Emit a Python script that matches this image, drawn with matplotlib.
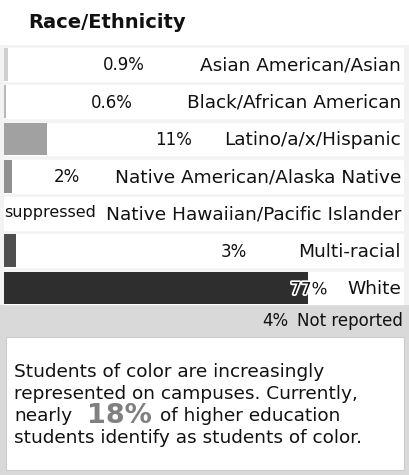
import numpy as np
import matplotlib
matplotlib.use('Agg')
import matplotlib.pyplot as plt
import matplotlib.patheffects as pe
from matplotlib.patches import Rectangle

plt.rcParams['font.family'] = ['DejaVu Sans']

# data
categories = ['Asian American/Asian', 'Black/African American', 'Latino/a/x/Hispanic',
              'Native American/Alaska Native', 'Native Hawaiian/Pacific Islander',
              'Multi-racial', 'White']
values = [0.9, 0.6, 11, 2, 0, 3, 77]
value_labels = ['0.9%', '0.6%', '11%', '2%', 'suppressed', '3%', '77%']
bar_colors = ['#cfcfcf', '#b8b8b8', '#a1a1a1', '#909090', '#ffffff', '#4e4e4e', '#2e2e2e']
not_reported_label = '4%'
not_reported_name = 'Not reported'

# where the percent labels sit (right edge, pixels)
label_right_px = [145, 133, 192, 80, 95, 247, 327]
not_reported_px = 288

W, H = 409, 475
fig = plt.figure(figsize=(W / 100, H / 100), dpi=100, facecolor='white')

def fx(px):
    return px / W

def fy(py):
    return 1 - py / H

# background bands
fig.patches.append(Rectangle((0, fy(305)), 1, fy(45) - fy(305), transform=fig.transFigure,
                             facecolor='#f3f3f3', edgecolor='none', zorder=-2))
fig.patches.append(Rectangle((0, 0), 1, fy(305), transform=fig.transFigure,
                             facecolor='#d9d9d9', edgecolor='none', zorder=-2))

pitch = 37.3
top = 64.3 - pitch / 2
ax = fig.add_axes([fx(4), fy(top + 8 * pitch), fx(400), 8 * pitch / H])
ax.set_zorder(1)
ax.set_facecolor('none')
ax.set_xlim(0, 101.3)
ax.set_ylim(7.5, -0.5)
ax.axis('off')

y = np.arange(len(categories))
for i in y:
    ax.axhspan(i - 0.437, i + 0.437, color='white', zorder=1)
ax.barh(y, values, height=0.874, color=bar_colors, zorder=2)

xt = ax.get_yaxis_transform()
for i, name in enumerate(categories):
    ax.text(0.9925, i + 0.03, name, transform=xt, ha='right', va='center',
            fontsize=13.3, color='#111111', zorder=4)
    if value_labels[i] == 'suppressed':
        ax.text(0, i - 0.02, value_labels[i], transform=xt, ha='left', va='center',
                fontsize=11.5, color='#111111', zorder=4)
    else:
        t = ax.text((label_right_px[i] - 4) / 400, i + 0.03, value_labels[i], transform=xt,
                    ha='right', va='center', fontsize=12, color='#111111', zorder=4)
        if values[i] > 50:
            t.set_path_effects([pe.withStroke(linewidth=2.5, foreground='white')])

ax.text((not_reported_px - 4) / 400, 7 - 0.12, not_reported_label, transform=xt,
        ha='right', va='center', fontsize=12, color='#111111')
ax.text(0.998, 7 - 0.12, not_reported_name, transform=xt, ha='right', va='center',
        fontsize=12, color='#111111')

fig.text(fx(28), fy(22), 'Race/Ethnicity', fontsize=14, fontweight='bold',
         color='#111111', ha='left', va='center')

# note box
fig.patches.append(Rectangle((fx(6), fy(470)), fx(398), fy(337) - fy(470),
                             transform=fig.transFigure, facecolor='white',
                             edgecolor='#cccccc', linewidth=0.8, zorder=3))
note_kw = dict(fontsize=13.3, color='#111111', ha='left', va='baseline', zorder=5)
fig.text(fx(14), fy(377), 'Students of color are increasingly', **note_kw)
fig.text(fx(14), fy(399), 'represented on campuses. Currently,', **note_kw)
fig.text(fx(14), fy(421), 'nearly', **note_kw)
fig.text(fx(87), fy(423), '18%', fontsize=19.5, fontweight='bold', color='#808080',
         ha='left', va='baseline', zorder=5)
fig.text(fx(160), fy(421), 'of higher education', **note_kw)
fig.text(fx(14), fy(443), 'students identify as students of color.', **note_kw)

fig.savefig('out.png', dpi=100, facecolor=fig.get_facecolor())
